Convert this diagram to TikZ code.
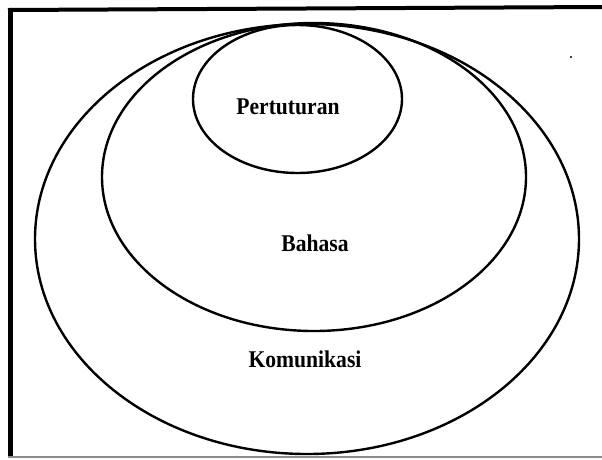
\documentclass[tikz,border=0pt]{standalone}
\usepackage{fontspec}
\setmainfont{Liberation Serif}
\begin{document}
\begin{tikzpicture}[x=1pt,y=-1pt,
  ring/.style={draw=black,line width=2.4pt},
  lab/.style={font=\bfseries\fontsize{24}{28}\selectfont,inner sep=0pt,xscale=0.9}]
\useasboundingbox (0,0) rectangle (602,459);
\fill[white] (0,0) rectangle (602,459);
% frame
\draw[line width=5pt] (10,457) -- (10,10);
\draw[line width=4pt] (8,10) -- (602,7);
\draw[line width=1.5pt,black!45] (8,457) -- (602,457);
% ellipses
\draw[ring] (307,239) ellipse [x radius=272,y radius=215];
\draw[ring] (314,177) ellipse [x radius=212,y radius=154];
\draw[ring] (297.5,99) ellipse [x radius=104.5,y radius=74];
% labels
\node[lab] (p) at (288,107) {Pertuturan};
\node[lab] (b) at (315,243) {Bahasa};
\node[lab] (k) at (305,359) {Komunikasi};
% stray dot
\fill (571,57) circle (1.2pt);
\end{tikzpicture}
\end{document}
